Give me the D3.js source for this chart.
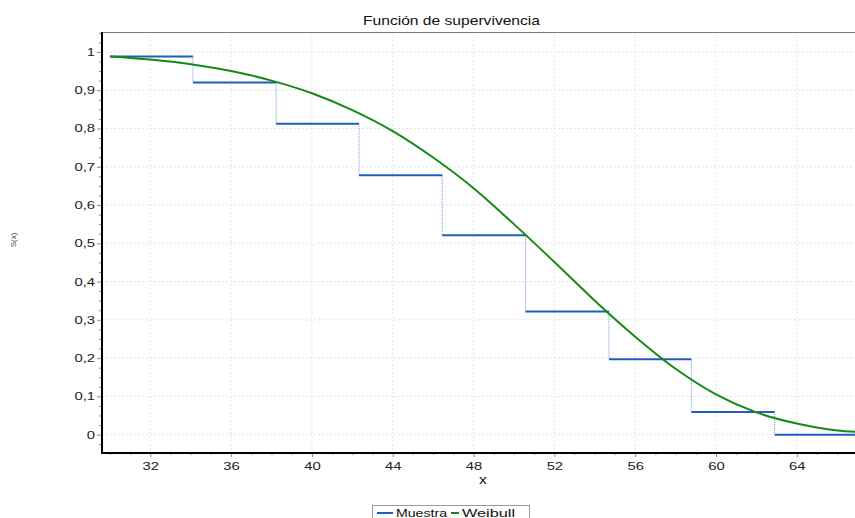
<!DOCTYPE html>
<html>
<head>
<meta charset="utf-8">
<script src="https://cdn.jsdelivr.net/npm/d3@7"></script>
<style>
  body { margin: 0; background: #fff; }
  svg { display: block; font-family: "Liberation Sans", Arial, sans-serif; }
  .tick line { stroke: #8a8a8a; }
  .grid line { stroke: #e4e4e4; stroke-dasharray: 2,2; }
</style>
</head>
<body>
<div class="chart"></div>
<script>
var svgWidth = 855;
var svgHeight = 518;

// sample (empirical) survival: step start x and value
var stepX = [30.0, 34.11, 38.23, 42.33, 46.45, 50.57, 54.7, 58.78, 62.9];
var stepS = [0.988, 0.920, 0.812, 0.678, 0.521, 0.322, 0.197, 0.059, 0.0];
var stepEnd = 67.5;

// fitted Weibull curve
var weibullX = [30, 32, 34, 36, 38, 40, 42, 44, 46, 48, 50, 52, 54, 56, 58, 60, 62, 64, 66, 67];
var weibullS = [0.988, 0.980, 0.968, 0.950, 0.925, 0.892, 0.848, 0.793, 0.724, 0.644, 0.550, 0.451, 0.350, 0.256, 0.172, 0.105, 0.058, 0.029, 0.011, 0.007];

var xTicks = [32, 36, 40, 44, 48, 52, 56, 60, 64];
var yTicks = [0, 0.1, 0.2, 0.3, 0.4, 0.5, 0.6, 0.7, 0.8, 0.9, 1];
var yTickLabels = ["0", "0,1", "0,2", "0,3", "0,4", "0,5", "0,6", "0,7", "0,8", "0,9", "1"];

var plot = { left: 102, top: 32, right: 856, bottom: 453 };

var svg = d3.select(".chart")
  .append("svg")
  .attr("width", svgWidth)
  .attr("height", svgHeight);

var x = d3.scaleLinear().domain([29.61, 66.88]).range([plot.left, 855]);
var y = d3.scaleLinear().domain([-0.048, 1.052]).range([plot.bottom, plot.top]);

svg.append("defs").append("clipPath")
  .attr("id", "clip")
  .append("rect")
  .attr("x", plot.left)
  .attr("y", plot.top)
  .attr("width", plot.right - plot.left)
  .attr("height", plot.bottom - plot.top);

// gridlines
var grid = svg.append("g").attr("class", "grid");
grid.selectAll(".gx").data(xTicks).enter().append("line")
  .attr("x1", d => x(d)).attr("x2", d => x(d))
  .attr("y1", plot.top).attr("y2", plot.bottom);
grid.selectAll(".gy").data(yTicks).enter().append("line")
  .attr("x1", plot.left).attr("x2", plot.right)
  .attr("y1", d => y(d)).attr("y2", d => y(d));

// minor ticks
var xMinor = d3.range(30, 67, 1).filter(d => xTicks.indexOf(d) < 0);
var yMinor = d3.range(-0.025, 1.051, 0.025).filter(d => Math.abs(Math.round(d * 10) - d * 10) > 0.01);

svg.append("g")
  .attr("transform", `translate(0, ${plot.bottom})`)
  .call(d3.axisBottom(x).tickValues(xMinor).tickSize(2).tickFormat(""))
  .call(g => g.select(".domain").remove());
svg.append("g")
  .attr("transform", `translate(${plot.left}, 0)`)
  .call(d3.axisLeft(y).tickValues(yMinor).tickSize(3).tickFormat(""))
  .call(g => g.select(".domain").remove());

// major axes
var xAxis = svg.append("g")
  .attr("transform", `translate(0, ${plot.bottom})`)
  .call(d3.axisBottom(x).tickValues(xTicks).tickSize(4).tickPadding(5).tickFormat(d3.format("d")));
xAxis.select(".domain").remove();
xAxis.selectAll("text")
  .attr("font-size", 11)
  .attr("fill", "#222")
  .attr("transform", "scale(1.35,1)");

var yAxis = svg.append("g")
  .attr("transform", `translate(${plot.left}, 0)`)
  .call(d3.axisLeft(y).tickValues(yTicks).tickSize(5).tickPadding(2).tickFormat((d, i) => yTickLabels[i]));
yAxis.select(".domain").remove();
yAxis.selectAll("text")
  .attr("font-size", 11)
  .attr("fill", "#222")
  .attr("x", -7 / 1.35)
  .attr("transform", "scale(1.35,1)");

// frame: gray top, black left and bottom
svg.append("line")
  .attr("x1", plot.left).attr("x2", plot.right)
  .attr("y1", plot.top + 0.5).attr("y2", plot.top + 0.5)
  .attr("stroke", "#7a7a7a").attr("stroke-width", 1.2);
svg.append("line")
  .attr("x1", plot.left).attr("x2", plot.left)
  .attr("y1", plot.top).attr("y2", plot.bottom + 1)
  .attr("stroke", "#000").attr("stroke-width", 2);
svg.append("line")
  .attr("x1", plot.left - 1).attr("x2", plot.right)
  .attr("y1", plot.bottom).attr("y2", plot.bottom)
  .attr("stroke", "#000").attr("stroke-width", 2);

var lines = svg.append("g").attr("clip-path", "url(#clip)");

// step function: solid horizontal pieces, dotted risers
var steps = stepX.map((d, i) => ({ x0: d, x1: i < stepX.length - 1 ? stepX[i + 1] : stepEnd, s: stepS[i] }));

lines.selectAll(".riser").data(steps.slice(1)).enter().append("line")
  .attr("x1", d => x(d.x0)).attr("x2", d => x(d.x0))
  .attr("y1", (d, i) => y(steps[i].s)).attr("y2", d => y(d.s))
  .attr("stroke", "#6a94dc").attr("stroke-width", 1)
  .attr("stroke-dasharray", "1,1");

lines.selectAll(".tread").data(steps).enter().append("line")
  .attr("x1", d => x(d.x0)).attr("x2", d => x(d.x1))
  .attr("y1", d => y(d.s)).attr("y2", d => y(d.s))
  .attr("stroke", "#1f5cbf").attr("stroke-width", 2);

// Weibull curve
var line = d3.line()
  .x(d => x(d[0]))
  .y(d => y(d[1]))
  .curve(d3.curveMonotoneX);

lines.append("path")
  .attr("d", line(d3.zip(weibullX, weibullS)))
  .attr("fill", "none")
  .attr("stroke", "#148a14")
  .attr("stroke-width", 2);

// title and axis labels
svg.append("text")
  .attr("x", 363).attr("y", 25)
  .attr("font-size", 13)
  .attr("fill", "#111")
  .attr("textLength", 177)
  .attr("lengthAdjust", "spacingAndGlyphs")
  .text("Función de supervivencia");

svg.append("text")
  .attr("transform", "translate(483, 484) scale(1.3,1)")
  .attr("text-anchor", "middle")
  .attr("font-size", 12)
  .attr("fill", "#111")
  .text("x");

svg.append("text")
  .attr("transform", "translate(16, 240) rotate(-90)")
  .attr("text-anchor", "middle")
  .attr("font-size", 8)
  .attr("fill", "#444")
  .text("S(x)");

// legend
var legend = svg.append("g");
legend.append("rect")
  .attr("x", 372.5).attr("y", 505.5)
  .attr("width", 157).attr("height", 24)
  .attr("fill", "#fff").attr("stroke", "#9a9a9a");

var legendItems = [
  { name: "Muestra", color: "#1f5cbf", lx: 377, tx: 396, w: 51 },
  { name: "Weibull", color: "#148a14", lx: 451, tx: 462, w: 53 }
];
legendItems.forEach(function(d) {
  legend.append("line")
    .attr("x1", d.lx).attr("x2", d.lx + (d.tx - d.lx - 3))
    .attr("y1", 513).attr("y2", 513)
    .attr("stroke", d.color).attr("stroke-width", 2);
  legend.append("text")
    .attr("x", d.tx).attr("y", 517)
    .attr("font-size", 11)
    .attr("fill", "#111")
    .attr("textLength", d.w)
    .attr("lengthAdjust", "spacingAndGlyphs")
    .text(d.name);
});
</script>
</body>
</html>
